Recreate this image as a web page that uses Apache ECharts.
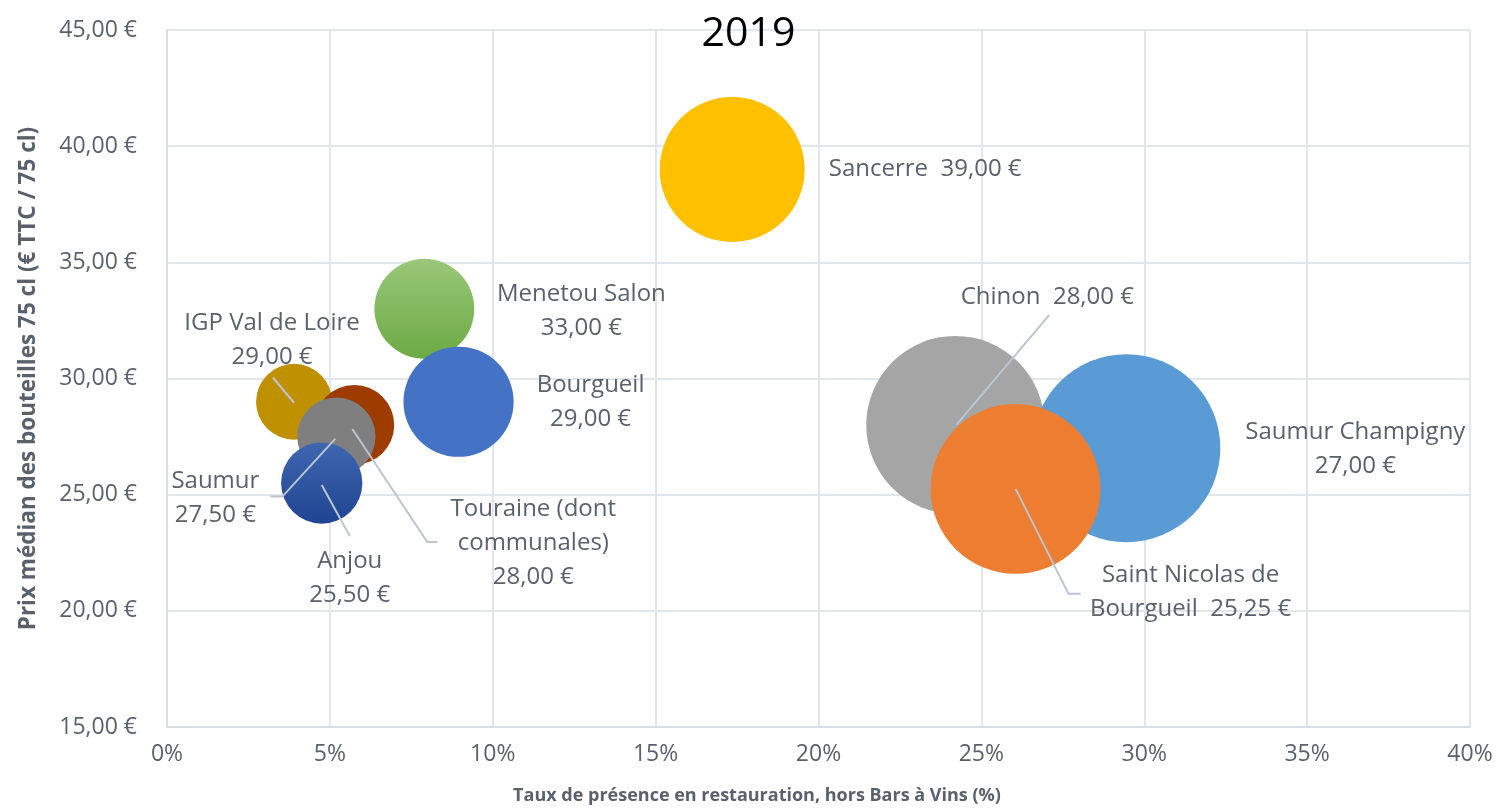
<!DOCTYPE html>
<html lang="fr">
  <head>
    <meta charset="UTF-8" />
    <meta name="viewport" content="width=device-width, initial-scale=1.0" />
    <title>2019</title>
    <style>
      html,
      body {
        margin: 0;
        padding: 0;
        background: #fff;
      }
      #main {
        width: 1497px;
        height: 810px;
      }
    </style>
  </head>
  <body>
    <script src="https://cdn.jsdelivr.net/npm/echarts@6.0.0/dist/echarts.js"></script>
    <div id="main"></div>
    <script>
      // donnees (ordre = ordre de dessin, le dernier passe devant)
      const appellations = [
        'IGP Val de Loire',
        'Touraine (dont\ncommunales)',
        'Saumur',
        'Anjou',
        'Menetou Salon',
        'Bourgueil',
        'Sancerre',
        'Chinon',
        'Saumur Champigny',
        'Saint Nicolas de\nBourgueil'
      ]
      const tauxPresence = [3.9, 5.75, 5.2, 4.75, 7.9, 8.95, 17.35, 24.2, 29.45, 26.05]
      const prixMedian = [29, 28, 27.5, 25.5, 33, 29, 39, 28, 27, 25.25]
      const tailleBulle = [4.8, 5.3, 5.1, 5.5, 8.3, 10.1, 17.5, 26.4, 29.4, 24.0]

      const xTicks = [0, 5, 10, 15, 20, 25, 30, 35, 40]
      const yTicks = [15, 20, 25, 30, 35, 40, 45]

      // mise en forme
      const couleurs = [
        '#BF9000',
        '#9E3B00',
        '#7F7F7F',
        new echarts.graphic.LinearGradient(0, 0, 0, 1, [
          { offset: 0, color: '#3F66B0' },
          { offset: 1, color: '#1F4592' }
        ]),
        new echarts.graphic.LinearGradient(0, 0, 0, 1, [
          { offset: 0, color: '#98C878' },
          { offset: 1, color: '#6DAA45' }
        ]),
        '#4472C4',
        '#FFC000',
        '#A5A5A5',
        '#5B9BD5',
        '#ED7D31'
      ]
      const separateur = ['\n', '\n', '\n', '\n', '\n', '\n', '  ', '  ', '\n', '  ']
      const decalageEtiquette = [
        [-22, -62],
        [179, 118],
        [-121, 62],
        [28, 95],
        [157, 2],
        [132, 0],
        [193, 0],
        [92, -128],
        [229, 1],
        [175, 103]
      ]
      const lignesRappel = [
        [[-21, -24], [0, 1]],
        [[-2, 4], [73, 117], [83, 117]],
        [[-1, 2], [-54, 60], [-66, 60]],
        [[0, 2], [28, 53]],
        null,
        null,
        null,
        [[1, 0], [94, -110]],
        null,
        [[0, 0], [53, 105], [65, 105]]
      ]

      const police = '"Open Sans", "Noto Sans", sans-serif'
      const gris = '#5a616d'
      const tailleMax = Math.max(...tailleBulle)
      const euro = (v) => v.toFixed(2).replace('.', ',') + ' €'

      const data = appellations.map((nom, i) => ({
        name: nom,
        value: [tauxPresence[i], prixMedian[i], tailleBulle[i]],
        itemStyle: { color: couleurs[i] }
      }))

      const chart = echarts.init(document.getElementById('main'))
      chart.setOption({
        animation: false,
        title: {
          text: '2019',
          left: 'center',
          top: 9,
          textStyle: {
            fontFamily: police,
            fontSize: 41,
            fontWeight: 'normal',
            color: '#000'
          }
        },
        grid: {
          left: 167,
          right: 27,
          top: 30,
          bottom: 82
        },
        xAxis: {
          type: 'value',
          min: xTicks[0],
          max: xTicks[xTicks.length - 1],
          interval: 5,
          name: 'Taux de présence en restauration, hors Bars à Vins (%)',
          nameLocation: 'middle',
          nameGap: 60,
          nameTextStyle: {
            fontFamily: police,
            fontSize: 18,
            fontWeight: 'bold',
            color: gris,
            padding: [0, 123, 0, 0]
          },
          axisLine: { lineStyle: { color: '#d9dde4', width: 2 } },
          axisTick: { show: false },
          axisLabel: {
            margin: 16,
            fontFamily: police,
            fontSize: 23,
            color: gris,
            formatter: (v) => v + '%'
          },
          splitLine: { show: true, lineStyle: { color: '#e1e5ec', width: 2 } }
        },
        yAxis: {
          type: 'value',
          min: yTicks[0],
          max: yTicks[yTicks.length - 1],
          interval: 5,
          name: 'Prix médian des bouteilles 75 cl (€ TTC / 75 cl)',
          nameLocation: 'middle',
          nameGap: 127,
          nameTextStyle: {
            fontFamily: police,
            fontSize: 22.5,
            fontWeight: 'bold',
            color: gris
          },
          axisLine: { show: true, lineStyle: { color: '#d9dde4', width: 2 } },
          axisTick: { show: false },
          axisLabel: {
            margin: 30,
            fontFamily: police,
            fontSize: 23,
            color: gris,
            formatter: (v) => euro(v)
          },
          splitLine: { show: true, lineStyle: { color: '#e1e5ec', width: 2 } }
        },
        series: [
          {
            type: 'scatter',
            data,
            symbolSize: (val) => 188 * Math.sqrt(val[2] / tailleMax),
            itemStyle: { opacity: 1 },
            label: {
              show: true,
              position: 'inside',
              align: 'center',
              fontFamily: police,
              fontSize: 24,
              lineHeight: 34,
              color: gris,
              formatter: ({ dataIndex, name, value }) => name + separateur[dataIndex] + euro(value[1])
            },
            labelLayout: ({ dataIndex }) => ({
              dx: decalageEtiquette[dataIndex][0],
              dy: decalageEtiquette[dataIndex][1]
            })
          }
        ]
      })

      // lignes de rappel des etiquettes
      const elements = []
      lignesRappel.forEach((pts, i) => {
        if (!pts) return
        const [cx, cy] = chart.convertToPixel('grid', [tauxPresence[i], prixMedian[i]])
        elements.push({
          type: 'polyline',
          z: 10,
          shape: { points: pts.map(([dx, dy]) => [cx + dx, cy + dy]) },
          style: { stroke: '#bcc4d2', lineWidth: 2, fill: null }
        })
      })
      chart.setOption({ graphic: { elements } })
    </script>
  </body>
</html>
